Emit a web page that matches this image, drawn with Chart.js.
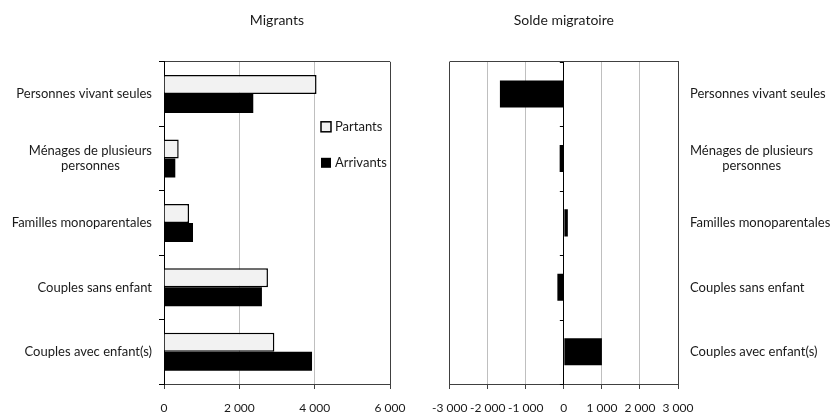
<!DOCTYPE html>
<html>
<head>
<meta charset="utf-8">
<script src="https://cdn.jsdelivr.net/npm/chart.js@4.4.1/dist/chart.umd.min.js"></script>
<style>
    body { margin:0; background:#fff; }
    #wrap { position:relative; width:838px; height:413px; }
    .box { position:absolute; top:0; height:413px; }
</style>
</head>
<body>
<div id="wrap">
    <div class="box" style="left:0; width:420px;"><canvas id="chart-migrants"></canvas></div>
    <div class="box" style="left:420px; width:418px;"><canvas id="chart-solde"></canvas></div>
</div>
<script>
const categories = [
    'Personnes vivant seules',
    ['Ménages de plusieurs', 'personnes'],
    'Familles monoparentales',
    'Couples sans enfant',
    'Couples avec enfant(s)'
];
const partants = [4050, 390, 665, 2760, 2930];
const arrivants = [2370, 300, 770, 2600, 3930];
const solde = [-1680, -110, 105, -170, 1000];

const migrantsTicks = [0, 2000, 4000, 6000];
const soldeTicks = [-3000, -2000, -1000, 0, 1000, 2000, 3000];

const FONT = 'Lato, "Open Sans", sans-serif';
Chart.defaults.font.family = FONT;
Chart.defaults.font.size = 13;
Chart.defaults.color = '#1a1a1a';

const GRID = '#bfbfbf';
const FRAME = '#404040';

// "2 000" style thousands
const fmt = v => (v < 0 ? '-' : '') + Math.abs(v).toString().replace(/\B(?=(\d{3})+(?!\d))/g, ' ');

// category labels, multi-line ones centered on each other
const catLabels = {
    id: 'catLabels',
    afterDraw(chart, args, opts) {
        const y = chart.scales.y, ctx = chart.ctx, area = chart.chartArea;
        ctx.save();
        ctx.font = '13px ' + FONT;
        ctx.fillStyle = '#1a1a1a';
        ctx.textBaseline = 'middle';
        ctx.textAlign = 'center';
        categories.forEach((lab, i) => {
            const lines = Array.isArray(lab) ? lab : [lab];
            const w = Math.max(...lines.map(l => ctx.measureText(l).width));
            const cx = opts.side === 'left' ? area.left - opts.gap - w / 2 : area.right + opts.gap + w / 2;
            const yc = y.getPixelForTick(i);
            lines.forEach((l, k) => ctx.fillText(l, cx, yc + (k - (lines.length - 1) / 2) * 15));
        });
        ctx.restore();
    }
};

// legend inside the plot, top right
const innerLegend = {
    id: 'innerLegend',
    afterDraw(chart) {
        const ctx = chart.ctx, area = chart.chartArea;
        ctx.save();
        ctx.font = '13px ' + FONT;
        ctx.textBaseline = 'middle';
        chart.data.datasets.forEach((ds, i) => {
            const x = area.right - 69, y = area.top + 65 + i * 36;
            ctx.fillStyle = ds.backgroundColor;
            ctx.fillRect(x, y - 5, 10, 10);
            if (ds.borderWidth) {
                ctx.strokeStyle = ds.borderColor;
                ctx.lineWidth = 1.5;
                ctx.strokeRect(x, y - 5, 10, 10);
            }
            ctx.fillStyle = '#1a1a1a';
            ctx.fillText(ds.label, x + 14, y);
        });
        ctx.restore();
    }
};

// small ticks on the zero line of the solde chart
const zeroTicks = {
    id: 'zeroTicks',
    afterDraw(chart) {
        const ctx = chart.ctx, xs = chart.scales.x, ys = chart.scales.y;
        const x0 = xs.getPixelForValue(0);
        const half = (ys.getPixelForTick(1) - ys.getPixelForTick(0)) / 2;
        ctx.save();
        ctx.strokeStyle = '#000';
        ctx.lineWidth = 1;
        for (let i = 0; i <= categories.length; i++) {
            const y = i < categories.length ? ys.getPixelForTick(i) - half : ys.getPixelForTick(i - 1) + half;
            ctx.beginPath();
            ctx.moveTo(x0 - 4, Math.round(y) + 0.5);
            ctx.lineTo(x0, Math.round(y) + 0.5);
            ctx.stroke();
        }
        ctx.restore();
    }
};

new Chart(document.getElementById('chart-migrants'), {
    type: 'bar',
    data: {
        labels: categories,
        datasets: [
            { label: 'Partants', data: partants, backgroundColor: '#f2f2f2', borderColor: '#000', borderWidth: 1.5 },
            { label: 'Arrivants', data: arrivants, backgroundColor: '#000', borderWidth: 0 }
        ]
    },
    options: {
        indexAxis: 'y',
        responsive: true,
        maintainAspectRatio: false,
        animation: false,
        categoryPercentage: 0.59,
        barPercentage: 1,
        layout: { padding: { right: 30 } },
        scales: {
            x: {
                min: 0, max: 6000,
                afterBuildTicks: s => { s.ticks = migrantsTicks.map(v => ({ value: v })); },
                afterFit: s => { s.height = 29; },
                ticks: { callback: v => fmt(v), padding: 12, maxRotation: 0, font: { size: 12 } },
                grid: {
                    color: c => c.tick && c.tick.value === 6000 ? FRAME : GRID,
                    tickColor: FRAME, tickLength: 5
                },
                border: { color: FRAME }
            },
            y: {
                afterFit: s => { s.width = 164; },
                ticks: { display: false },
                grid: {
                    color: c => c.index === 0 ? FRAME : 'transparent',
                    tickColor: '#000', tickLength: 5
                },
                border: { color: '#000' }
            }
        },
        plugins: {
            legend: { display: false },
            tooltip: { enabled: false },
            title: {
                display: true, text: 'Migrants', fullSize: false,
                font: { size: 14, weight: 'normal' }, color: '#1a1a1a',
                padding: { top: 12, bottom: 33 }
            },
            catLabels: { side: 'left', gap: 12 }
        }
    },
    plugins: [catLabels, innerLegend]
});

new Chart(document.getElementById('chart-solde'), {
    type: 'bar',
    data: {
        labels: categories,
        datasets: [
            { label: 'Solde migratoire', data: solde, backgroundColor: '#000', borderWidth: 0 }
        ]
    },
    options: {
        indexAxis: 'y',
        responsive: true,
        maintainAspectRatio: false,
        animation: false,
        categoryPercentage: 0.42,
        barPercentage: 1,
        layout: { padding: { left: 29 } },
        scales: {
            x: {
                min: -3000, max: 3000,
                afterBuildTicks: s => { s.ticks = soldeTicks.map(v => ({ value: v })); },
                afterFit: s => { s.height = 29; },
                ticks: { callback: v => fmt(v), padding: 12, maxRotation: 0, autoSkip: false, font: { size: 12 } },
                grid: {
                    color: c => {
                        if (!c.tick) return GRID;
                        if (c.tick.value === 0) return '#000';
                        if (Math.abs(c.tick.value) === 3000) return FRAME;
                        return GRID;
                    },
                    tickColor: FRAME, tickLength: 5
                },
                border: { color: FRAME }
            },
            y: {
                position: 'right',
                afterFit: s => { s.width = 160; },
                ticks: { display: false },
                grid: {
                    color: c => c.index === 0 ? FRAME : 'transparent',
                    drawTicks: false
                },
                border: { color: FRAME }
            }
        },
        plugins: {
            legend: { display: false },
            tooltip: { enabled: false },
            title: {
                display: true, text: 'Solde migratoire', fullSize: false,
                font: { size: 14, weight: 'normal' }, color: '#1a1a1a',
                padding: { top: 12, bottom: 33 }
            },
            catLabels: { side: 'right', gap: 12 }
        }
    },
    plugins: [catLabels, zeroTicks]
});
</script>
</body>
</html>
